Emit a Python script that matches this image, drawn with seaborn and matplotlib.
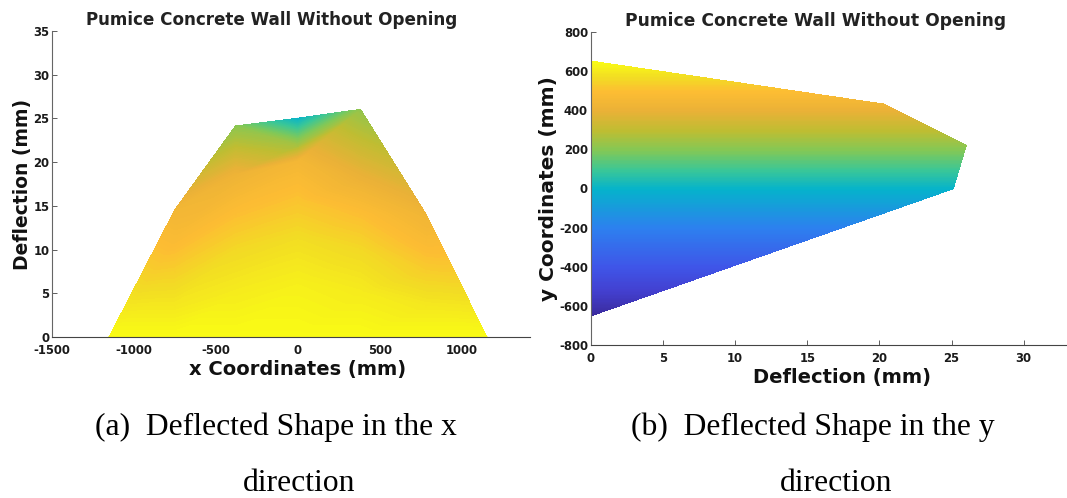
import numpy as np
import pandas as pd
import matplotlib
matplotlib.use("Agg")
import matplotlib.pyplot as plt
import matplotlib.tri as mtri
from matplotlib.colors import LinearSegmentedColormap, Normalize
import seaborn as sns

# ---- data ----
title_text = "Pumice Concrete Wall Without Opening"

# panel (a): mesh columns (x coordinate), deflection at each level, wall height y shown as colour
x_columns = [-1150, -750, -380, 0, 380, 780, 1150]
defl_row0 = [0, 0, 0, 0, 0, 0, 0]
defl_row1 = [0, 3.5, 5, 6, 5, 3.5, 0]
defl_row2 = [0, 7.5, 10, 11, 10, 7.5, 0]
defl_row3 = [0, 11, 14, 15.5, 14, 11, 0]
defl_row4 = [0, 14.5, 18.5, 20, 18, 14, 0]
defl_row5 = [0, 14.5, 24, 21.8, 25.9, 14, 0]
defl_row6 = [0, 14.5, 24.1, 25, 26, 14, 0]
y_row0 = [650, 650, 650, 650, 650, 650, 650]
y_row1 = [650, 600, 610, 620, 610, 600, 650]
y_row2 = [650, 540, 560, 575, 560, 535, 650]
y_row3 = [650, 480, 500, 515, 500, 475, 650]
y_row4 = [650, 440, 420, 450, 410, 430, 650]
y_row5 = [650, 440, 215, 260, 225, 430, 650]
y_row6 = [650, 440, 210, 0, 220, 430, 650]

# panel (b): outline of the deflected wall
outline_y = [650, 430, 220, 0, -650]
outline_defl = [0, 20.3, 26, 25.1, 0]

# colour anchors (wall y coordinate -> colour), modified parula
anchor_y = [-650, -520, -400, -200, 0, 100, 200, 300, 400, 500, 570, 650]
anchor_colors = ["#3a2a9c", "#4340d0", "#3f55e8", "#2d80ef", "#05b3cb", "#3cc795",
                 "#84c855", "#bfbd32", "#eab137", "#fdbd33", "#f2dc24", "#f9fb15"]

x_ticks = [-1500, -1000, -500, 0, 500, 1000]
defl_ticks_a = [0, 5, 10, 15, 20, 25, 30, 35]
defl_ticks_b = [0, 5, 10, 15, 20, 25, 30]
y_ticks_b = [-800, -600, -400, -200, 0, 200, 400, 600, 800]

# ---- style ----
sns.set_theme(style="ticks")
plt.rcParams["font.family"] = ["DejaVu Sans"]
plt.rcParams["axes.unicode_minus"] = False
W, H = 1067, 498
fig = plt.figure(figsize=(W / 100, H / 100), dpi=100, facecolor="white")


def px_axes(left, top, right, bottom):
    return fig.add_axes([left / W, 1 - bottom / H, (right - left) / W, (bottom - top) / H])


span = anchor_y[-1] - anchor_y[0]
cmap = LinearSegmentedColormap.from_list(
    "wall", [((v - anchor_y[0]) / span, c) for v, c in zip(anchor_y, anchor_colors)], N=512
)
norm = Normalize(anchor_y[0], anchor_y[-1])
levels = np.linspace(-660, 660, 200)


def fill(ax, tri, vals):
    cs = ax.tricontourf(tri, vals, levels=levels, cmap=cmap, norm=norm)
    cs.set_edgecolor("face")
    cs.set_linewidth(0.4)


def style(ax, xlabel, ylabel, xt, yt, xpad, xlab_px, ylab_size, xlabpad):
    sns.despine(ax=ax)
    ax.spines["left"].set_linewidth(0.8)
    ax.spines["left"].set_color("#666666")
    ax.spines["bottom"].set_linewidth(0.8)
    ax.spines["bottom"].set_color("#444444")
    ax.set_xticks(xt)
    ax.set_yticks(yt)
    ax.tick_params(direction="in", length=3.5, width=0.6, color="#444444", labelsize=8.4,
                   labelcolor="#1a1a1a", pad=2)
    ax.tick_params(axis="x", pad=xpad)
    for t in ax.get_xticklabels() + ax.get_yticklabels():
        t.set_fontweight("bold")
    ax.set_xlabel(xlabel, fontsize=14, fontweight="bold", color="#111111", labelpad=xlabpad, x=xlab_px)
    ax.set_ylabel(ylabel, fontsize=ylab_size, fontweight="bold", color="#111111", labelpad=1)
    ax.set_facecolor("none")


# ---- panel (a) ----
ax1 = px_axes(52, 31, 530, 337)
rows_d = [defl_row0, defl_row1, defl_row2, defl_row3, defl_row4, defl_row5, defl_row6]
rows_y = [y_row0, y_row1, y_row2, y_row3, y_row4, y_row5, y_row6]
nx, nr = len(x_columns), len(rows_d)
mesh_x = np.tile(x_columns, nr).astype(float)
mesh_d = np.concatenate(rows_d).astype(float)
mesh_y = np.concatenate(rows_y).astype(float)
tris = []
for r in range(nr - 1):
    for c in range(nx - 1):
        a, b, d, e = r * nx + c, r * nx + c + 1, (r + 1) * nx + c, (r + 1) * nx + c + 1
        if c == 0:
            tris += [[a, b, e]]
        elif c == nx - 2:
            tris += [[a, b, d]]
        else:
            tris += [[a, b, e], [a, e, d]]
fill(ax1, mtri.Triangulation(mesh_x, mesh_d, tris), mesh_y)
nodes_a = pd.DataFrame({"x": mesh_x, "d": mesh_d, "y": mesh_y})
sns.scatterplot(data=nodes_a, x="x", y="d", hue="y", palette=cmap, hue_norm=norm, s=1,
                linewidth=0, legend=False, ax=ax1)
ax1.set_xlim(-1500, 1415)
ax1.set_ylim(0, 35)
style(ax1, "x Coordinates (mm)", "Deflection (mm)", x_ticks, defl_ticks_a, 5, (298 - 52) / 478, 13.5, 2)

# ---- panel (b) ----
ax2 = px_axes(590.7, 32, 1067, 345)
n = len(outline_y)
b_d = np.array(list(outline_defl) + [0.0] * n, dtype=float)
b_y = np.array(list(outline_y) * 2, dtype=float)
b_tris = []
for i in range(n - 1):
    b_tris += [[i, i + 1, n + i + 1], [i, n + i + 1, n + i]]
fill(ax2, mtri.Triangulation(b_d, b_y, b_tris), b_y)
nodes_b = pd.DataFrame({"d": outline_defl, "y": outline_y})
sns.scatterplot(data=nodes_b, x="d", y="y", hue="y", palette=cmap, hue_norm=norm, s=1,
                linewidth=0, legend=False, ax=ax2)
ax2.set_xlim(0, 33)
ax2.set_ylim(-800, 800)
style(ax2, "Deflection (mm)", "y Coordinates (mm)", defl_ticks_b, y_ticks_b, 5, (842 - 590.7) / 476.3, 14.5, 2.5)

ax1.set_title(title_text, fontsize=12.1, fontweight="bold", color="#222222", x=(272 - 52) / 478, y=1, pad=4.5)
ax2.set_title(title_text, fontsize=12.3, fontweight="bold", color="#222222", x=(816 - 590.7) / 476.3, y=1, pad=4.5)

# ---- captions ----
cap = dict(family="Liberation Serif", fontsize=22.8, color="black", ha="center", va="baseline")
fig.text(276 / W, 1 - 435 / H, "(a)  Deflected Shape in the x", **cap)
fig.text(299 / W, 1 - 491 / H, "direction", **cap)
fig.text(812.5 / W, 1 - 435 / H, "(b)  Deflected Shape in the y", **cap)
fig.text(836 / W, 1 - 491 / H, "direction", **cap)

fig.savefig("out.png", dpi=100)
